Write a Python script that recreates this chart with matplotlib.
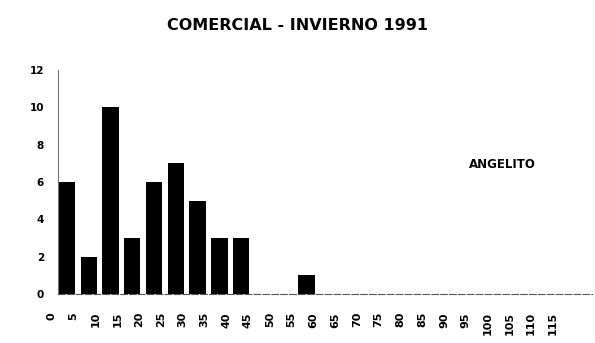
import numpy as np
import matplotlib
matplotlib.use('Agg')
import matplotlib.pyplot as plt

# ancho de clase (cm) y numero de ejemplares
clases = [str(i) for i in range(0, 120, 5)]
frecuencia = [6, 2, 10, 3, 6, 7, 5, 3, 3, 0, 0, 1, 0, 0, 0, 0, 0, 0, 0, 0, 0, 0, 0, 0]
y_ticks = [0, 2, 4, 6, 8, 10, 12]

titulo = 'COMERCIAL - INVIERNO 1991'
especie = 'ANGELITO'

fig = plt.figure(figsize=(5.95, 3.43), dpi=100)
ax = fig.add_axes([0.0872, 0.143, 0.9076, 0.653])

x = np.arange(len(clases))
ax.bar(x, frecuencia, width=0.75, color='black')

for s in ['top', 'right']:
    ax.spines[s].set_visible(False)
# moving the spine resets the ticks, so do it first
ax.spines['left'].set_position(('data', -0.41))
ax.spines['left'].set_color('#777777')
ax.spines['left'].set_linewidth(0.8)
ax.spines['bottom'].set_color('#555555')
ax.spines['bottom'].set_linewidth(0.8)
ax.spines['bottom'].set_linestyle((0, (6, 2)))

# the scanned labels sit a bit left of the bars
ax.set_xticks(x - 0.69)
ax.set_xticklabels(clases, rotation=90, fontsize=8, fontweight='bold', va='top', ha='center')
ax.set_yticks(y_ticks)
ax.set_yticklabels([str(v) for v in y_ticks], fontsize=7.5, fontweight='bold')
ax.set_xlim(-0.69, 24.1)
ax.set_ylim(0, 12)
ax.spines['bottom'].set_bounds(-0.41, 24.1)
ax.tick_params(axis='both', length=0)
ax.tick_params(axis='x', pad=13)
ax.tick_params(axis='y', pad=10)

fig.text(0.50, 0.927, titulo, fontsize=11.5, fontweight='bold', ha='center', va='center')
ax.text(0.835, 0.576, especie, transform=ax.transAxes, fontsize=8.5, fontweight='bold',
        ha='center', va='center')

fig.savefig('out.png', dpi=100)
